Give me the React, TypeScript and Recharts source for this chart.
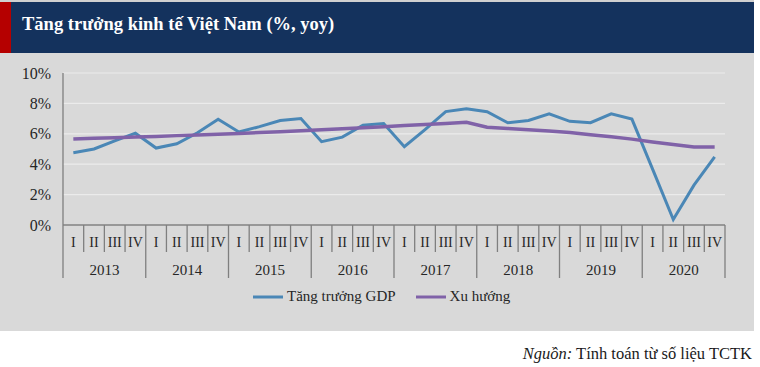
import { LineChart, Line, XAxis, YAxis, CartesianGrid, Legend } from "recharts";

const YEARS = ["2013", "2014", "2015", "2016", "2017", "2018", "2019", "2020"];
const QUARTERS = ["I", "II", "III", "IV"];

// GDP growth, % yoy, quarter by quarter
const GDP = [
  4.76, 5.0, 5.54, 6.04,
  5.06, 5.34, 6.07, 6.96,
  6.12, 6.47, 6.87, 7.01,
  5.48, 5.78, 6.56, 6.68,
  5.15, 6.28, 7.46, 7.65,
  7.45, 6.73, 6.88, 7.31,
  6.82, 6.73, 7.31, 6.97,
  3.68, 0.36, 2.62, 4.48,
];

const TREND = [
  5.66, 5.7, 5.74, 5.79,
  5.83, 5.88, 5.92, 5.97,
  6.02, 6.08, 6.14, 6.2,
  6.26, 6.33, 6.4, 6.47,
  6.54, 6.61, 6.68, 6.76,
  6.43, 6.35, 6.27, 6.18,
  6.08, 5.94, 5.8, 5.65,
  5.46, 5.3, 5.13, 5.13,
];

const Y_TICKS = [0, 2, 4, 6, 8, 10];
const GDP_NAME = "Tăng trưởng GDP";
const TREND_NAME = "Xu hướng";

const data = YEARS.flatMap((year, yi) =>
  QUARTERS.map((q, qi) => ({
    key: `${year}-${q}`,
    q,
    year,
    gdp: GDP[yi * 4 + qi],
    trend: TREND[yi * 4 + qi],
  }))
);

const SERIF = "'Liberation Serif', 'DejaVu Serif', serif";
const W = 760;
const CHART_H = 331;
const M = { top: 73, right: 35, left: 8, bottom: 0 };
const Y_W = 55;
const X_H = 106;
const BAND = (W - M.left - M.right - Y_W) / data.length;
const AXIS = "#7f7f7f";
const TEXT = "#262626";

function QuarterTick(props: any) {
  const { x, y, index } = props;
  const d = data[index];
  const half = BAND / 2;
  const lastOfYear = index % 4 === 3;
  return (
    <g>
      <text x={x} y={y + 22} textAnchor="middle" fontSize={14} fontFamily={SERIF} fill={TEXT}>
        {d.q}
      </text>
      {index === 0 && (
        <line x1={x - half} x2={x - half} y1={y} y2={y + 53} stroke={AXIS} strokeWidth={1.3} />
      )}
      <line
        x1={x + half}
        x2={x + half}
        y1={y}
        y2={lastOfYear ? y + 53 : y + 27}
        stroke={AXIS}
        strokeWidth={1.3}
      />
      {index % 4 === 1 && (
        <text x={x + half} y={y + 50} textAnchor="middle" fontSize={15} fontFamily={SERIF} fill={TEXT}>
          {d.year}
        </text>
      )}
    </g>
  );
}

function LegendContent(props: any) {
  const items = props.payload || [];
  return (
    <div style={{ display: "flex", alignItems: "center", fontFamily: SERIF, fontSize: 15, color: TEXT }}>
      {items.map((it: any, i: number) => (
        <div key={i} style={{ display: "flex", alignItems: "center", marginRight: i === 0 ? 20 : 0 }}>
          <svg width={30} height={6} style={{ marginRight: 4 }}>
            <line x1={0} x2={30} y1={3} y2={3} stroke={it.color} strokeWidth={3} />
          </svg>
          <span>{it.value}</span>
        </div>
      ))}
    </div>
  );
}

export default function App() {
  return (
    <div style={{ position: "absolute", left: 0, top: 0, width: W, height: 367, background: "#fff" }}>
      <div style={{ position: "absolute", left: 0, top: 0, width: 754, height: 2, background: "#d0d0d0" }} />
      <div
        style={{
          position: "absolute",
          left: 0,
          top: 2,
          width: 754,
          height: 51,
          background: "#14325d",
        }}
      >
        <div style={{ position: "absolute", left: 0, top: 0, width: 11, height: 51, background: "#b50000" }} />
        <div
          style={{
            position: "absolute",
            left: 22,
            top: 12,
            color: "#fff",
            fontFamily: SERIF,
            fontWeight: 700,
            fontSize: 18.5,
            whiteSpace: "nowrap",
          }}
        >
          Tăng trưởng kinh tế Việt Nam (%, yoy)
        </div>
      </div>
      <div style={{ position: "absolute", left: 0, top: 53, width: 754, height: 278, background: "#d9d9d9" }} />
      <div style={{ position: "absolute", left: 0, top: 0 }}>
        <LineChart width={W} height={CHART_H} data={data} margin={M}>
          <CartesianGrid horizontal vertical={false} stroke="#ebebeb" strokeWidth={1.2} />
          <XAxis
            dataKey="key"
            interval={0}
            height={X_H}
            padding={{ left: BAND / 2, right: BAND / 2 }}
            tickLine={false}
            tickSize={0}
            tickMargin={0}
            axisLine={{ stroke: AXIS, strokeWidth: 1.3 }}
            tick={<QuarterTick />}
          />
          <YAxis
            width={Y_W}
            domain={[0, 10]}
            ticks={Y_TICKS}
            tickFormatter={(v) => `${v}%`}
            tickLine={false}
            tickSize={0}
            tickMargin={12}
            axisLine={{ stroke: AXIS, strokeWidth: 1.3 }}
            tick={{ fill: TEXT, fontSize: 16, fontFamily: SERIF }}
          />
          <Legend
            layout="horizontal"
            verticalAlign="middle"
            align="center"
            wrapperStyle={{ top: 288, left: 253, width: "auto" }}
            content={<LegendContent />}
          />
          <Line
            type="linear"
            dataKey="gdp"
            name={GDP_NAME}
            stroke="#4a87b6"
            strokeWidth={3}
            dot={false}
            isAnimationActive={false}
          />
          <Line
            type="linear"
            dataKey="trend"
            name={TREND_NAME}
            stroke="#8062a8"
            strokeWidth={3.5}
            dot={false}
            isAnimationActive={false}
          />
        </LineChart>
      </div>
      <div
        style={{
          position: "absolute",
          right: 8,
          top: 344,
          fontFamily: SERIF,
          fontSize: 16.5,
          color: "#1a1a1a",
          whiteSpace: "nowrap",
        }}
      >
        <i>Nguồn:</i> Tính toán từ số liệu TCTK
      </div>
    </div>
  );
}
